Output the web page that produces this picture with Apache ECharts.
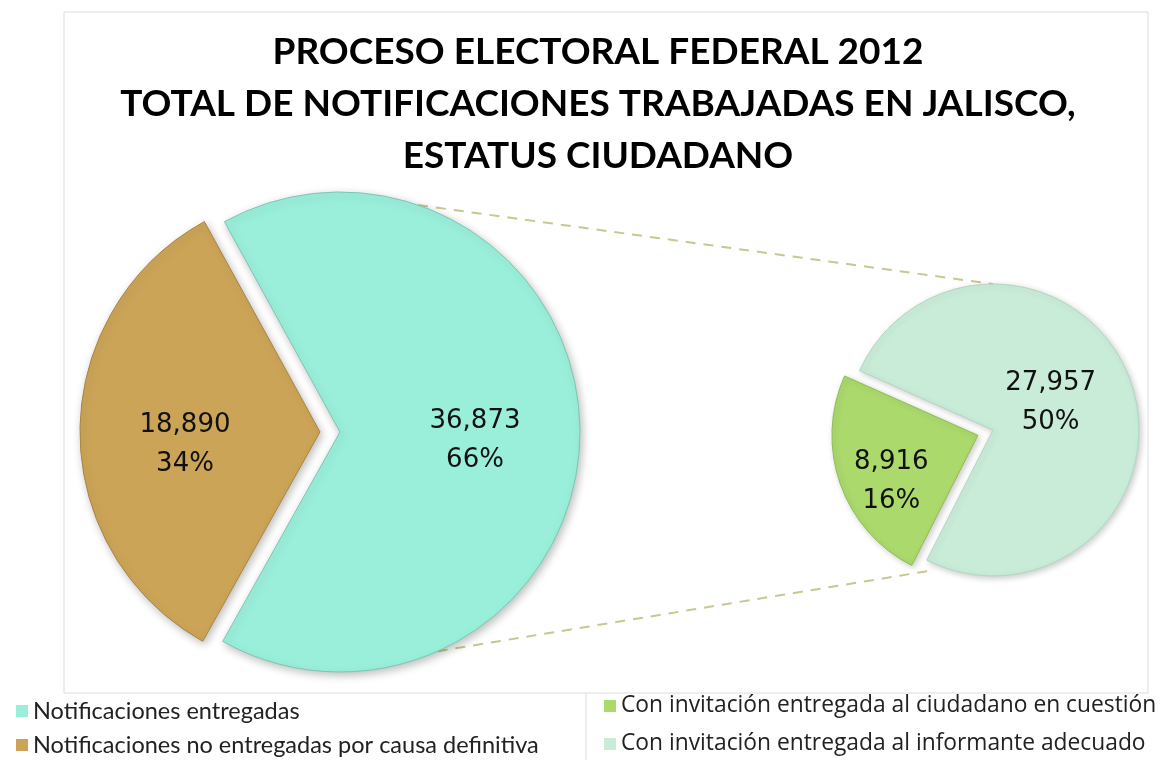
<!DOCTYPE html>
<html>
<head>
<meta charset="utf-8">
<script src="https://cdn.jsdelivr.net/npm/echarts@6/dist/echarts.min.js"></script>
<style>
html, body { margin: 0; padding: 0; background: #fff; }
#graph { width: 1171px; height: 760px; }
</style>
</head>
<body>
<div id="graph"></div>
<script>
// main pie: delivered vs not delivered
let mainNames = ['Notificaciones entregadas', 'Notificaciones no entregadas por causa definitiva'];
let mainValues = [36873, 18890];
// second pie: split of the delivered ones
let subNames = ['Con invitación entregada al informante adecuado', 'Con invitación entregada al ciudadano en cuestión'];
let subValues = [27957, 8916];
let legendRight = ['Con invitación entregada al ciudadano en cuestión', 'Con invitación entregada al informante adecuado'];

let total = mainValues[0] + mainValues[1];

// layout
let L = { cx: 340, cy: 432, r: 240 };
let R = { cx: 993, cy: 430, r: 146 };

function fmt(v) {
	return v.toString().replace(/\B(?=(\d{3})+(?!\d))/g, ',');
}
function labelFn(p) {
	return fmt(p.value) + '\n' + Math.round(p.value / total * 100) + '%';
}
function pt(c, ang, rr) {
	let a = ang * Math.PI / 180;
	return [c.cx + rr * Math.cos(a), c.cy - rr * Math.sin(a)];
}

let mainColors = ['#9aefda', '#cba457'];
let mainBorders = ['#7cc6b5', '#a88641'];
let subColors = ['#c9ecd9', '#abd96c'];
let subBorders = ['#b2d6c2', '#8fbd55'];
let mainLabelOffset = [[12, 8], [-12, 13]];
let subLabelOffset = [[-14, -2], [-15, 21]];

let chart = echarts.init(document.getElementById('graph'));

let p1 = pt(L, 71, L.r), p2 = pt(R, 90, R.r);
let p3 = pt(L, -66, L.r), p4 = pt(R, 246, R.r + 8);

let labelStyle = {
	show: true,
	position: 'inside',
	formatter: labelFn,
	fontFamily: 'DejaVu Sans',
	fontSize: 26,
	lineHeight: 39,
	color: '#111'
};

function pieData(names, values, colors, borders, offsets) {
	return values.map(function (v, i) {
		return {
			name: names[i],
			value: v,
			selected: i == 1,
			label: { offset: offsets[i] },
			select: { label: { offset: offsets[i] } },
			itemStyle: { color: colors[i], borderColor: borders[i], borderWidth: 1 }
		};
	});
}

let option = {
	backgroundColor: '#fff',
	animation: false,
	title: {
		text: 'PROCESO ELECTORAL FEDERAL 2012\nTOTAL DE NOTIFICACIONES TRABAJADAS EN JALISCO,\nESTATUS CIUDADANO',
		left: 593,
		top: 21,
		textAlign: 'center',
		textStyle: {
			fontFamily: 'Lato',
			fontWeight: 'bold',
			fontSize: 37,
			lineHeight: 52,
			color: '#000'
		}
	},
	legend: [{
		data: mainNames,
		orient: 'vertical',
		left: 16,
		top: 699,
		height: 80,
		padding: 0,
		icon: 'rect',
		itemWidth: 12,
		itemHeight: 12,
		itemGap: 10,
		selectedMode: false,
		itemStyle: { borderWidth: 0 },
		textStyle: { fontFamily: 'Lato', fontSize: 23.5, lineHeight: 24, color: '#222' }
	}, {
		data: legendRight,
		orient: 'vertical',
		left: 604,
		top: 694,
		height: 80,
		padding: 0,
		icon: 'rect',
		itemWidth: 12,
		itemHeight: 12,
		itemGap: 14,
		selectedMode: false,
		itemStyle: { borderWidth: 0 },
		textStyle: { fontFamily: 'Open Sans', fontSize: 22.8, lineHeight: 24, color: '#222' }
	}],
	graphic: [
		{ type: 'rect', shape: { x: 64, y: 12, width: 1084, height: 681 }, style: { fill: 'none', stroke: '#dcdcdc', lineWidth: 1 }, silent: true, z: -1 },
		{ type: 'line', shape: { x1: 586, y1: 693, x2: 586, y2: 760 }, style: { stroke: '#dcdcdc', lineWidth: 1 }, silent: true },
		{ type: 'line', shape: { x1: p1[0], y1: p1[1], x2: p2[0], y2: p2[1] }, style: { stroke: '#c9c68f', lineWidth: 2, lineDash: [10, 8] }, silent: true, z: -1 },
		{ type: 'line', shape: { x1: p3[0], y1: p3[1], x2: p4[0], y2: p4[1] }, style: { stroke: '#c9c68f', lineWidth: 2, lineDash: [10, 8] }, silent: true, z: -1 }
	],
	series: [{
		type: 'pie',
		center: [L.cx, L.cy],
		radius: L.r,
		startAngle: 118.8,
		clockwise: true,
		selectedMode: 'single',
		selectedOffset: 20,
		label: labelStyle,
		labelLine: { show: false },
		emphasis: { disabled: true },
		itemStyle: { shadowBlur: 8, shadowColor: 'rgba(0,0,0,0.25)', shadowOffsetX: 2, shadowOffsetY: 3 },
		data: pieData(mainNames, mainValues, mainColors, mainBorders, mainLabelOffset)
	}, {
		type: 'pie',
		center: [R.cx, R.cy],
		radius: R.r,
		startAngle: 156,
		clockwise: true,
		selectedMode: 'single',
		selectedOffset: 16,
		label: labelStyle,
		labelLine: { show: false },
		emphasis: { disabled: true },
		itemStyle: { shadowBlur: 6, shadowColor: 'rgba(0,0,0,0.2)', shadowOffsetX: 2, shadowOffsetY: 2 },
		data: pieData(subNames, subValues, subColors, subBorders, subLabelOffset)
	}]
};

chart.setOption(option);
</script>
</body>
</html>
